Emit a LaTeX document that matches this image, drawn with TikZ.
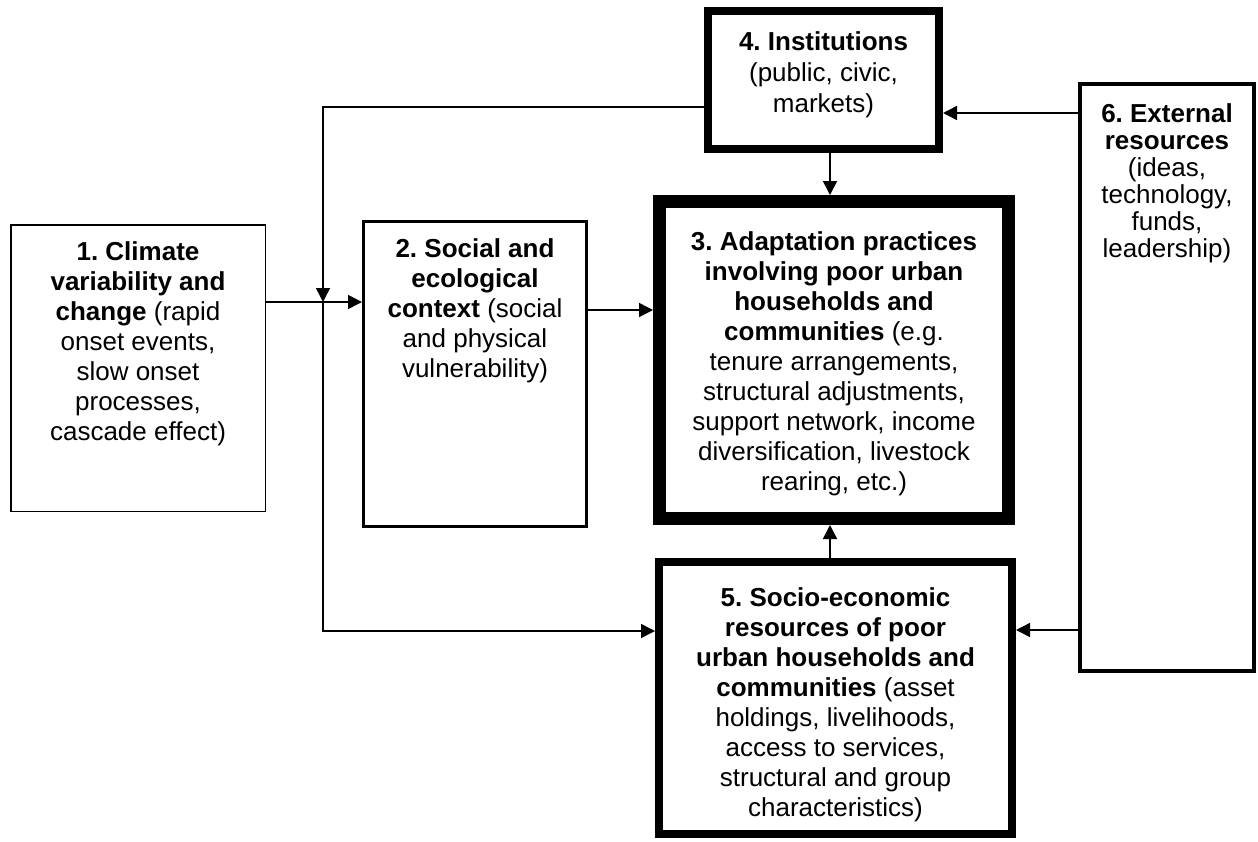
\documentclass[tikz,border=0pt]{standalone}
\usepackage{fontspec}
\setmainfont{Liberation Sans}
\frenchspacing
\usetikzlibrary{arrows.meta, positioning}

\begin{document}
\begin{tikzpicture}[x=1pt, y=-1pt,
    box/.style={draw, rectangle, inner sep=0pt},
    txt/.style={align=center, inner sep=0pt, anchor=base, font=\fontsize{26}{30}\selectfont},
    conn/.style={line width=1.5pt, -{Triangle[length=14pt, width=14pt]}}]
    \useasboundingbox (0,0) rectangle (1258,841);

    % Boxes
    \node[box, line width=1.5pt, minimum width=254.5pt, minimum height=286.5pt] (b1) at (138,368) {};  % Climate
    \node[box, line width=3pt, minimum width=223pt, minimum height=305pt] (b2) at (475,374) {};  % Context
    \node[box, line width=13pt, minimum width=349pt, minimum height=317pt] (b3) at (834,360) {};  % Adaptation
    \node[box, line width=8pt, minimum width=231pt, minimum height=138pt] (b4) at (823.5,80) {};  % Institutions
    \node[box, line width=8pt, minimum width=353pt, minimum height=272pt] (b5) at (835.5,698) {};  % Resources
    \node[box, line width=4pt, minimum width=174pt, minimum height=587pt] (b6) at (1167,377.5) {};  % External

    % Texts (anchored at the base of the last line)
    \node[txt] (t1) at ([yshift=-216pt]b1.north) {\textbf{1. Climate}\\ \textbf{variability and}\\ \textbf{change} (rapid\\ onset events,\\ slow onset\\ processes,\\ cascade effect)};
    \node[txt] (t2) at ([yshift=-157pt]b2.north) {\textbf{2. Social and}\\ \textbf{ecological}\\ \textbf{context} (social\\ and physical\\ vulnerability)};
    \node[txt] (t3) at ([yshift=-295pt]b3.north) {\textbf{3. Adaptation practices}\\ \textbf{involving poor urban}\\ \textbf{households and}\\ \textbf{communities} (e.g.\\ tenure arrangements,\\ structural adjustments,\\ support network, income\\ diversification, livestock\\ rearing, etc.)};
    \node[txt, font=\fontsize{26}{31}\selectfont] (t4) at ([yshift=-105pt]b4.north) {\textbf{4. Institutions}\\ (public, civic,\\ markets)};
    \node[txt] (t5) at ([yshift=-258pt]b5.north) {\textbf{5. Socio-economic}\\ \textbf{resources of poor}\\ \textbf{urban households and}\\ \textbf{communities} (asset\\ holdings, livelihoods,\\ access to services,\\ structural and group\\ characteristics)};
    \node[txt, font=\fontsize{26}{27}\selectfont] (t6) at ([yshift=-175pt]b6.north) {\textbf{6. External}\\ \textbf{resources}\\ (ideas,\\ technology,\\ funds,\\ leadership)};

    % Connectors
    \coordinate (tl) at (323,107);  % top corner
    \coordinate (jn) at (323,302);  % junction
    \coordinate (bl) at (323,631);  % bottom corner
    \coordinate (ax) at (830,0);
    \coordinate (m23) at (620,310);
    \coordinate (m64) at (1010,113);
    \coordinate (m65) at (1040,630);

    \draw[conn] (b1.east |- jn) -- (b2.west |- jn);
    \draw[conn] (b4.west |- tl) -- (tl) -- (jn);
    \draw[conn] (jn) -- (bl) -- (b5.west |- bl);
    \draw[conn] (b2.east |- m23) -- (b3.west |- m23);
    \draw[conn] (b4.south -| ax) -- (b3.north -| ax);
    \draw[conn] (b5.north -| ax) -- (b3.south -| ax);
    \draw[conn] (b6.west |- m64) -- (b4.east |- m64);
    \draw[conn] (b6.west |- m65) -- (b5.east |- m65);
\end{tikzpicture}
\end{document}
